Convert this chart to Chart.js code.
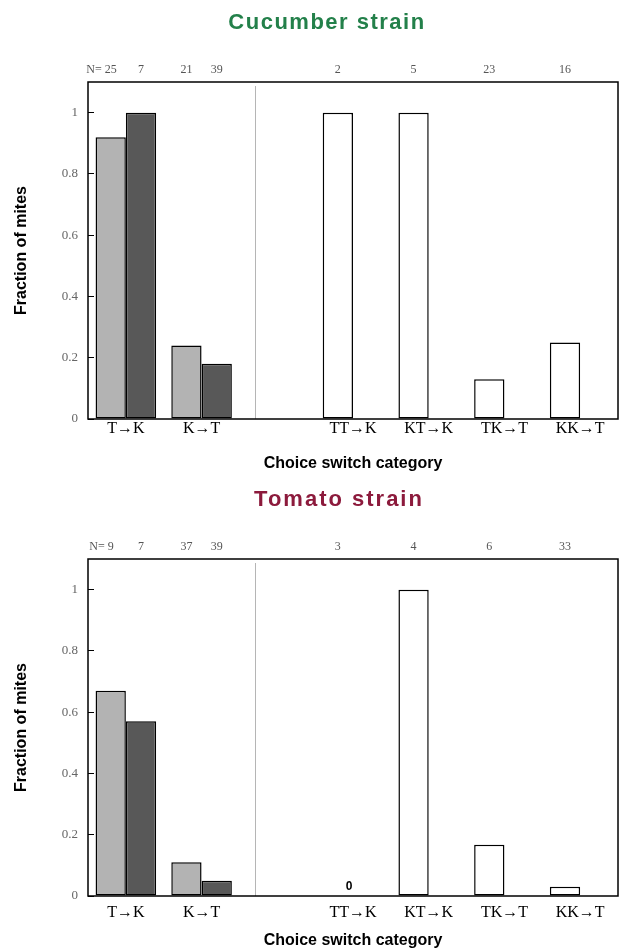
<!DOCTYPE html>
<html lang="en">
<head>
    <meta charset="UTF-8">
    <meta name="viewport" content="width=device-width, initial-scale=1.0">
    <title>Choice switch category</title>
    <script src="https://cdn.jsdelivr.net/npm/chart.js"></script>
    <style>
        body { margin: 0; background: #fff; }
        .panel { position: relative; width: 619px; height: 477px; }
        .panel h2 {
            position: absolute; top: 9px; margin: 0;
            font: bold 22px "Liberation Sans", Arial, sans-serif;
            letter-spacing: 1.5px; white-space: nowrap;
            transform: translateX(-50%);
        }
        canvas { display: block; }
    </style>
</head>
<body>
    <div class="panel">
        <h2 style="left: 327px; color: #23804a;">Cucumber strain</h2>
        <canvas id="cucumberChart" width="619" height="477"></canvas>
    </div>
    <div class="panel">
        <h2 style="left: 339px; color: #8c1a3c; letter-spacing: 2px;">Tomato strain</h2>
        <canvas id="tomatoChart" width="619" height="477"></canvas>
    </div>
    <script>
        const categories = ['T→K', 'K→T', '', 'TT→K', 'KT→K', 'TK→T', 'KK→T'];
        const yTicks = [0, 0.2, 0.4, 0.6, 0.8, 1];

        // cucumber strain: fractions and sample sizes (N) per bar
        const cucumberFirst = [0.92, 0.24, null, null, null, null, null];
        const cucumberSecond = [1.0, 0.18, null, null, null, null, null];
        const cucumberSequence = [null, null, null, 1.0, 1.0, 0.13, 0.25];
        const cucumberFirstN = [25, 21, null, null, null, null, null];
        const cucumberSecondN = [7, 39, null, null, null, null, null];
        const cucumberSequenceN = [null, null, null, 2, 5, 23, 16];

        // tomato strain
        const tomatoFirst = [0.67, 0.11, null, null, null, null, null];
        const tomatoSecond = [0.57, 0.05, null, null, null, null, null];
        const tomatoSequence = [null, null, null, 0, 1.0, 0.167, 0.03];
        const tomatoFirstN = [9, 37, null, null, null, null, null];
        const tomatoSecondN = [7, 39, null, null, null, null, null];
        const tomatoSequenceN = [null, null, null, 3, 4, 6, 33];

        const serif = '"Liberation Serif", "Times New Roman", serif';
        const sans = '"Liberation Sans", Arial, sans-serif';

        // frame, divider, N= row and zero labels
        const panelDecor = {
            id: 'panelDecor',
            beforeDatasetsDraw(chart, args, opts) {
                const { ctx, chartArea: a, scales: { x } } = chart;
                const px = Math.round(x.getPixelForValue(opts.dividerAt)) + 0.5;
                ctx.save();
                ctx.strokeStyle = '#b5b5b5';
                ctx.lineWidth = 1;
                ctx.beginPath();
                ctx.moveTo(px, a.top + 4);
                ctx.lineTo(px, a.bottom);
                ctx.stroke();
                ctx.restore();
            },
            afterDatasetsDraw(chart) {
                const { ctx, chartArea: a, scales: { x } } = chart;
                ctx.save();
                ctx.strokeStyle = '#000';
                ctx.lineWidth = 1.5;
                ctx.strokeRect(a.left, a.top, a.right - a.left, a.bottom - a.top);

                ctx.font = '12px ' + serif;
                ctx.fillStyle = '#555';
                ctx.textAlign = 'center';
                ctx.textBaseline = 'middle';
                const y = a.top - 12;
                let firstX = Infinity, firstW = 0;
                chart.data.datasets.forEach((ds, i) => {
                    const meta = chart.getDatasetMeta(i);
                    ds.counts.forEach((n, j) => {
                        if (n == null) return;
                        const bar = meta.data[j];
                        ctx.fillText(String(n), bar.x, y);
                        if (bar.x < firstX) {
                            firstX = bar.x;
                            firstW = ctx.measureText(String(n)).width;
                        }
                    });
                });
                ctx.textAlign = 'right';
                ctx.fillText('N=', firstX - firstW / 2 - 3, y);

                ctx.font = 'bold 12px ' + sans;
                ctx.fillStyle = '#000';
                ctx.textAlign = 'center';
                ctx.textBaseline = 'bottom';
                chart.data.datasets.forEach(ds => {
                    ds.data.forEach((v, j) => {
                        if (v === 0) ctx.fillText('0', x.getPixelForValue(j) - 4, a.bottom - 3);
                    });
                });
                ctx.restore();
            }
        };

        function makeChart(id, first, second, sequence, firstN, secondN, sequenceN, tickPad) {
            return new Chart(document.getElementById(id), {
                type: 'bar',
                data: {
                    labels: categories,
                    datasets: [
                        { label: 'first', data: first, counts: firstN, stack: 'left', backgroundColor: '#b3b3b3' },
                        { label: 'sequence', data: sequence, counts: sequenceN, stack: 'left', backgroundColor: '#ffffff' },
                        { label: 'second', data: second, counts: secondN, stack: 'right', backgroundColor: '#585858' }
                    ]
                },
                options: {
                    responsive: false,
                    animation: false,
                    layout: { padding: { top: 82, right: 1, bottom: 0, left: 0 } },
                    datasets: {
                        bar: {
                            borderColor: '#000',
                            borderWidth: 1.5,
                            borderSkipped: false,
                            categoryPercentage: 0.8,
                            barPercentage: 1
                        }
                    },
                    plugins: {
                        legend: { display: false },
                        tooltip: { enabled: false },
                        panelDecor: { dividerAt: 1.7 }
                    },
                    scales: {
                        x: {
                            grid: { display: false, drawTicks: false },
                            border: { display: false },
                            ticks: {
                                color: '#000',
                                font: { family: serif, size: 16 },
                                padding: tickPad,
                                maxRotation: 0,
                                autoSkip: false
                            },
                            title: {
                                display: true,
                                text: 'Choice switch category',
                                color: '#000',
                                font: { family: sans, size: 16, weight: 'bold' },
                                padding: { top: 0, bottom: 4 }
                            },
                            afterFit: s => { s.height = 58; }
                        },
                        y: {
                            min: 0,
                            max: 1.1,
                            afterBuildTicks: s => { s.ticks = yTicks.map(v => ({ value: v })); },
                            grid: { drawOnChartArea: false, tickLength: -6, color: '#000', lineWidth: 1 },
                            border: { display: false },
                            ticks: {
                                color: '#666',
                                font: { family: serif, size: 13 },
                                padding: 16,
                                callback: v => String(v)
                            },
                            title: {
                                display: true,
                                text: 'Fraction of mites',
                                color: '#000',
                                font: { family: sans, size: 16, weight: 'bold' },
                                padding: { top: 12, bottom: 0 }
                            },
                            afterFit: s => { s.width = 88; }
                        }
                    }
                },
                plugins: [panelDecor]
            });
        }

        makeChart('cucumberChart', cucumberFirst, cucumberSecond, cucumberSequence,
            cucumberFirstN, cucumberSecondN, cucumberSequenceN, 0);
        makeChart('tomatoChart', tomatoFirst, tomatoSecond, tomatoSequence,
            tomatoFirstN, tomatoSecondN, tomatoSequenceN, 7);
    </script>
</body>
</html>
